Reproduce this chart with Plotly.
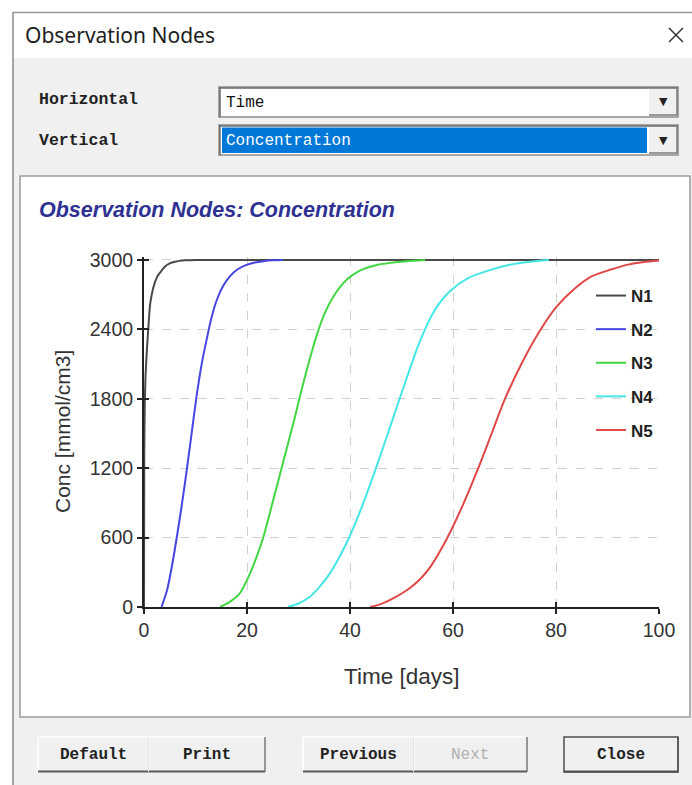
import plotly.graph_objects as go

# ---------------- data ----------------
series_names = ["N1", "N2", "N3", "N4", "N5"]
series_colors = ["#4a4a4a", "#4646e0", "#42d642", "#45e6e6", "#e04848"]

n1_time = [0, 0.05, 0.15, 0.3, 0.6, 0.9, 1.2, 1.8, 2.5, 3.1, 4, 5, 6, 8, 10, 100]
n1_conc = [0, 1300, 1750, 2000, 2250, 2450, 2620, 2760, 2850, 2890, 2940, 2970, 2985, 2997, 3000, 3000]

n2_time = [3.4, 4.5, 5.4, 6.5, 7.6, 8.5, 9.3, 10.2, 11.2, 12.2, 13.1, 14.1, 15.3, 16.7, 18.2, 19.9, 21.5, 23.2, 25, 27]
n2_conc = [0, 150, 348, 640, 960, 1250, 1520, 1820, 2100, 2320, 2500, 2650, 2770, 2860, 2920, 2958, 2978, 2990, 2997, 3000]

n3_time = [14.8, 16.5, 18.6, 20.6, 22, 23.2, 25.1, 26.7, 29, 30.9, 33.4, 35, 37, 39.5, 42, 45, 47.8, 51, 54.6]
n3_conc = [0, 40, 118, 291, 450, 608, 925, 1199, 1588, 1930, 2330, 2530, 2700, 2835, 2910, 2955, 2975, 2990, 3000]

n4_time = [28, 30, 32.2, 34, 36.1, 39.4, 41.9, 45.2, 47.8, 50.4, 53.6, 56.5, 59.4, 63, 67, 71, 75, 78.6]
n4_conc = [0, 30, 89, 170, 291, 560, 820, 1220, 1560, 1900, 2300, 2570, 2730, 2845, 2910, 2958, 2985, 3000]

n5_time = [43.9, 46, 49, 51.5, 53.6, 55.5, 58.8, 62, 64.9, 67.5, 70, 73.5, 76.9, 80, 83.7, 87, 90.5, 94, 97, 100]
n5_conc = [0, 25, 89, 160, 240, 340, 590, 890, 1200, 1500, 1790, 2120, 2390, 2590, 2755, 2860, 2915, 2960, 2982, 2995]

x_ticks = [0, 20, 40, 60, 80, 100]
y_ticks = [0, 600, 1200, 1800, 2400, 3000]

chart_title = "Observation Nodes: Concentration"
x_title = "Time [days]"
y_title = "Conc [mmol/cm3]"

# ---------------- helpers ----------------
W, H = 692, 785
def X(p):
    return p / W
def Y(p):
    return 1 - p / H

fig = go.Figure()
all_t = [n1_time, n2_time, n3_time, n4_time, n5_time]
all_c = [n1_conc, n2_conc, n3_conc, n4_conc, n5_conc]
for name, t, c, col in zip(series_names, all_t, all_c, series_colors):
    fig.add_trace(go.Scatter(x=t, y=c, mode="lines", name=name, legendgroup=name,
                             line=dict(color=col, width=2, shape="spline", smoothing=0.7), hoverinfo="skip"))

# dummy trace for the inside-tick overlay axes (ticks crossing the axis lines)
fig.add_trace(go.Scatter(x=[None], y=[None], xaxis="x2", yaxis="y2", showlegend=False, hoverinfo="skip"))

axis_common = dict(showline=True, linecolor="#222", linewidth=2, ticks="outside", ticklen=5,
                   tickwidth=2, tickcolor="#222", zeroline=False, showgrid=True, automargin=False,
                   gridcolor="#d0d0d0", griddash="dash", gridwidth=1,
                   tickfont=dict(family="Liberation Sans", size=19.5, color="#333"))

fig.update_layout(
    width=W, height=H, autosize=False, margin=dict(l=0, r=0, t=0, b=0, pad=0, autoexpand=False),
    paper_bgcolor="white", plot_bgcolor="white",
    xaxis=dict(domain=[X(144), X(659)], range=[0, 100], tickvals=x_ticks, **axis_common),
    yaxis=dict(domain=[Y(607), Y(257.1)], range=[0, 3025], tickvals=y_ticks, **axis_common),
    xaxis2=dict(overlaying="x", anchor="y2", range=[0, 100], tickvals=x_ticks, ticks="inside",
                ticklen=5, tickwidth=2, tickcolor="#222", showticklabels=False, showgrid=False,
                showline=False, zeroline=False),
    yaxis2=dict(overlaying="y", anchor="x2", range=[0, 3025], tickvals=y_ticks, ticks="inside",
                ticklen=5, tickwidth=2, tickcolor="#222", showticklabels=False, showgrid=False,
                showline=False, zeroline=False),
    showlegend=True,
    legend=dict(x=X(591), y=Y(278), xanchor="left", yanchor="top", bgcolor="rgba(0,0,0,0)",
                traceorder="grouped", tracegroupgap=8.5,
                font=dict(family="Liberation Sans", size=17, color="#222", weight="bold")),
)

shapes = []
def rect(x0, y0, x1, y1, fill, line="rgba(0,0,0,0)", lw=0, layer="below"):
    shapes.append(dict(type="rect", xref="paper", yref="paper", x0=X(x0), x1=X(x1), y0=Y(y1), y1=Y(y0),
                       fillcolor=fill, line=dict(color=line, width=lw), layer=layer))
def line(x0, y0, x1, y1, col, lw, layer="below"):
    shapes.append(dict(type="line", xref="paper", yref="paper", x0=X(x0), x1=X(x1), y0=Y(y0), y1=Y(y1),
                       line=dict(color=col, width=lw), layer=layer))

# window body
rect(13, 58, 692, 785, "#f0f0f0")
rect(13, 13, 692, 58, "#ffffff")
line(13, 12.5, 692, 12.5, "#9a9a9a", 1.5)
line(13, 12, 13, 785, "#8a8a8a", 1.5)
# close X
line(669, 28, 683, 42, "#333", 1.5)
line(669, 42, 683, 28, "#333", 1.5)

# combo boxes
for (y0, y1) in [(87, 117), (125, 155)]:
    rect(219, y0, 678, y1, "#ffffff", "#8c8c8c", 1.5)
    line(219, y0 + 1, 678, y0 + 1, "#6a6a6a", 1.5)
    line(220, y0, 220, y1, "#6a6a6a", 1.5)
rect(222, 127.5, 647, 153, "#0078d7")
for (y0, y1) in [(89, 115), (127, 153)]:
    rect(649, y0, 677, y1, "#f0f0f0")
    line(649, y1, 677, y1, "#7a7a7a", 1.5)
    line(677, y0, 677, y1, "#7a7a7a", 1.5)

# chart panel
rect(20, 176, 690, 717, "#ffffff", "#9a9a9a", 1.5)

# buttons
buttons = [(38, 149, "Default", "#222"), (149, 265, "Print", "#222"), (303, 414, "Previous", "#222"),
           (414, 527, "Next", "#b0b0b0"), (564, 678, "Close", "#222")]
for bx0, bx1, _, _ in buttons:
    rect(bx0, 737, bx1, 772, "#f0f0f0")
    line(bx0, 737, bx1, 737, "#ffffff", 1.5)
    line(bx0, 737, bx0, 772, "#ffffff", 1.5)
    line(bx0, 771.5, bx1, 771.5, "#5a5a5a", 2)
    line(bx1, 737, bx1, 772, "#7a7a7a", 1.5)
rect(564, 737, 678, 772, "rgba(0,0,0,0)", "#4a4a4a", 1.5)

fig.update_layout(shapes=shapes)

ann = []
def text(x, y, s, size, col="#222", family="Liberation Sans", xanchor="left", angle=0, bold=False, italic=False):
    st = s
    if italic:
        st = "<i>" + st + "</i>"
    if bold:
        st = "<b>" + st + "</b>"
    ann.append(dict(xref="paper", yref="paper", x=X(x), y=Y(y), text=st, showarrow=False,
                    xanchor=xanchor, yanchor="middle", textangle=angle,
                    font=dict(family=family, size=size, color=col)))

text(23, 35, "Observation Nodes", 21, "#1e1e1e", "Noto Sans")
text(37, 100, "Horizontal", 16.5, "#222", "Liberation Mono", bold=True)
text(37, 141, "Vertical", 16.5, "#222", "Liberation Mono", bold=True)
text(224, 103, "Time", 16, "#111", "Liberation Mono")
text(224, 141, "Concentration", 16, "#ffffff", "Liberation Mono")
text(663, 102, "▼", 11, "#222", "DejaVu Sans", xanchor="center")
text(663, 141, "▼", 11, "#222", "DejaVu Sans", xanchor="center")
for bx0, bx1, label, col in buttons:
    text((bx0 + bx1) / 2, 755, label, 16, col, "Liberation Mono", xanchor="center", bold=(label != "Next"))

text(37, 210, chart_title, 21.5, "#2e3192", bold=True, italic=True)
text(401, 676, x_title, 22.5, "#333", xanchor="center")
text(62, 432, y_title, 21, "#333", xanchor="center", angle=-90)

fig.update_layout(annotations=ann)
fig.write_html("out.html", config={"displayModeBar": False},
               post_script="document.body.style.margin='0';document.body.style.overflow='hidden';")
